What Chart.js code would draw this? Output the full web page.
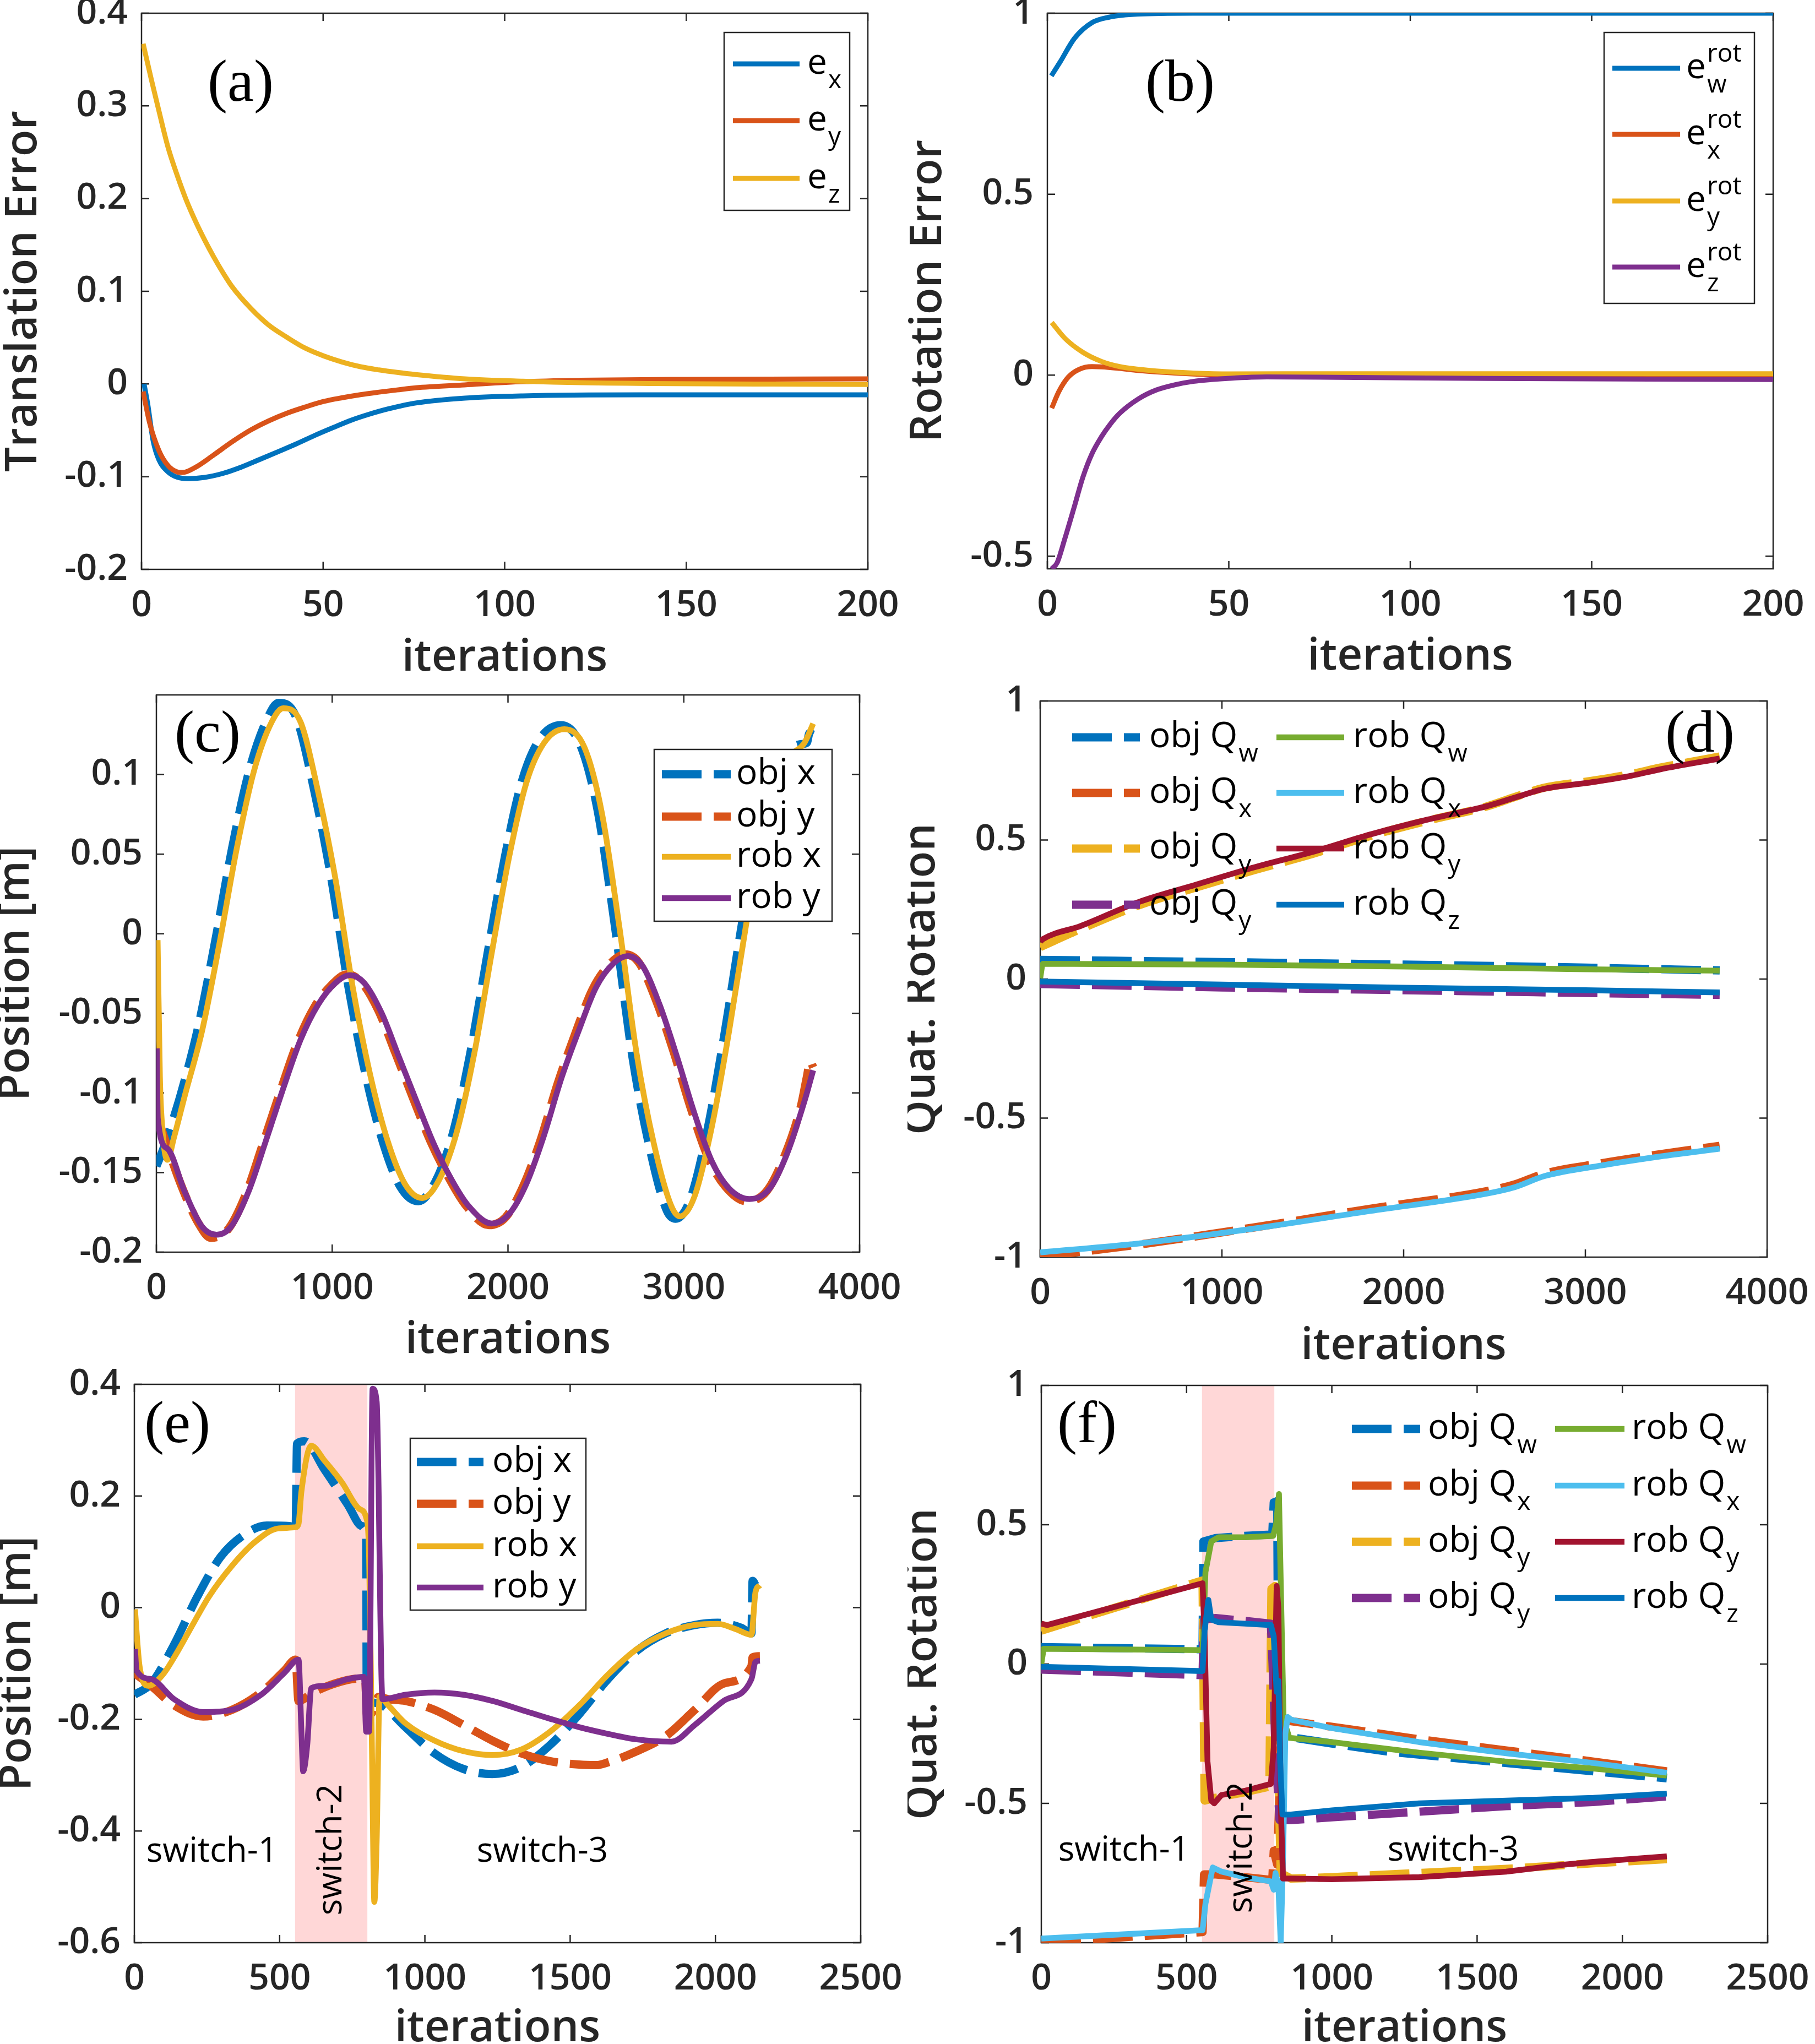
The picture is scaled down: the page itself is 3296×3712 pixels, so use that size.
<!DOCTYPE html>
<html>
<head>
<meta charset="utf-8">
<title>Tracking errors and trajectories</title>
<script src="https://cdn.jsdelivr.net/npm/chart.js@4.4.1/dist/chart.umd.min.js"></script>
<style>
  html, body { margin: 0; padding: 0; background: #fff; }
  #fig { position: relative; width: 3296px; height: 3712px; overflow: hidden; background: #fff; }
  #fig canvas { position: absolute; }
</style>
</head>
<body>
<div id="fig">
  <canvas id="pa" width="1648" height="1240" style="left:0;top:0;width:1648px;height:1240px"></canvas>
  <canvas id="pb" width="1648" height="1240" style="left:1648px;top:0;width:1648px;height:1240px"></canvas>
  <canvas id="pc" width="1648" height="1232" style="left:0;top:1240px;width:1648px;height:1232px"></canvas>
  <canvas id="pd" width="1648" height="1232" style="left:1648px;top:1240px;width:1648px;height:1232px"></canvas>
  <canvas id="pe" width="1648" height="1240" style="left:0;top:2472px;width:1648px;height:1240px"></canvas>
  <canvas id="pf" width="1648" height="1240" style="left:1648px;top:2472px;width:1648px;height:1240px"></canvas>
</div>
<script>
// ---- data: [iteration, value] ----

// (a) translation error
const aEx = [[0.7,0.0],[1.7,-0.0214],[3.2,-0.0614],[4.75,-0.0815],[7.3,-0.0948],[9.8,-0.1005],[12.8,-0.1021],[17.4,-0.1008],[22.4,-0.0965],[27.4,-0.0898],[32.5,-0.0815],[37.6,-0.0731],[42.7,-0.0645],[47.7,-0.0555],[52.8,-0.0470],[57.8,-0.0390],[62.8,-0.0325],[68,-0.0268],[75.5,-0.0205],[89,-0.0152],[105,-0.0128],[137,-0.0117],[200,-0.0117]];
const aEy = [[0.45,-0.0081],[2.2,-0.0415],[4.75,-0.0715],[7.3,-0.0881],[9.8,-0.0948],[11.3,-0.0955],[14.9,-0.0898],[19.9,-0.0765],[24.9,-0.0625],[30,-0.0498],[35,-0.0398],[40.1,-0.0314],[45.1,-0.0248],[50.2,-0.0188],[55.3,-0.0148],[60.3,-0.0115],[65.4,-0.0088],[70.4,-0.0064],[75.5,-0.0041],[89,-0.001],[105,0.0025],[121,0.004],[150,0.005],[200,0.0056]];
const aEz = [[0.45,0.367],[2.7,0.3286],[4.75,0.2953],[7.3,0.2553],[9.8,0.2253],[12.3,0.1986],[14.9,0.1752],[17.4,0.1552],[19.9,0.1369],[22.4,0.1202],[24.9,0.1052],[30,0.0819],[35,0.0636],[40.1,0.0502],[45.1,0.0386],[50.2,0.0302],[55.3,0.0236],[60.3,0.0186],[65.4,0.0152],[70.4,0.0125],[75.5,0.0102],[89,0.0056],[105,0.003],[121,0.0014],[200,-0.0005]];

// (b) rotation error
const bEw = [[1.1,0.827],[3.5,0.865],[7.5,0.931],[12.3,0.974],[17,0.989],[25,0.9976],[40,1.0],[200,1.0]];
const bEx = [[1.2,-0.0911],[3.2,-0.0446],[5.8,-0.005],[8.8,0.0164],[12.3,0.0237],[14.9,0.023],[19.9,0.0187],[25,0.013],[35.1,0.0058],[45.2,0.0014],[55,0.0],[200,-0.002]];
const bEy = [[1.2,0.1457],[4.75,0.1027],[9.8,0.0631],[14.9,0.038],[19.9,0.0237],[25,0.0164],[30,0.0114],[40.2,0.0058],[50.3,0.0035],[80,0.004],[200,0.004]];
const bEz = [[1.2,-0.535],[2.7,-0.518],[4.75,-0.4538],[7.3,-0.3677],[9.8,-0.2815],[12.3,-0.2168],[14.9,-0.1702],[17.4,-0.1344],[19.9,-0.1056],[25,-0.066],[30,-0.041],[35.1,-0.0266],[40.2,-0.0172],[45.2,-0.0122],[50.3,-0.0086],[60.4,-0.005],[80,-0.006],[121,-0.009],[200,-0.012]];

// (c) position, long run
const cObjX = [[0,-0.146],[40,-0.135],[100,-0.115],[136,-0.102],[235,-0.060],[334,-0.005],[433,0.055],[532,0.104],[631,0.135],[695,0.145],[795,0.136],[894,0.092],[993,0.036],[1092,-0.033],[1191,-0.089],[1289,-0.131],[1388,-0.159],[1490,-0.168],[1586,-0.156],[1685,-0.126],[1784,-0.076],[1883,-0.013],[1982,0.048],[2080,0.096],[2179,0.122],[2300,0.131],[2410,0.119],[2509,0.078],[2608,0.005],[2706,-0.076],[2805,-0.134],[2904,-0.174],[2954,-0.179],[3036,-0.167],[3135,-0.123],[3233,-0.062],[3332,0.007],[3431,0.068],[3563,0.110],[3662,0.119],[3700,0.120],[3715,0.126],[3736,0.125]];
const cObjY = [[0,-0.113],[45,-0.128],[141,-0.158],[240,-0.182],[310,-0.191],[405,-0.186],[504,-0.165],[603,-0.133],[702,-0.100],[800,-0.069],[899,-0.046],[998,-0.032],[1084,-0.0255],[1163,-0.030],[1262,-0.048],[1360,-0.075],[1459,-0.103],[1558,-0.130],[1657,-0.152],[1756,-0.170],[1891,-0.183],[1987,-0.178],[2085,-0.159],[2184,-0.130],[2283,-0.094],[2382,-0.063],[2481,-0.035],[2580,-0.019],[2666,-0.013],[2744,-0.018],[2843,-0.042],[2942,-0.074],[3041,-0.110],[3140,-0.141],[3238,-0.159],[3357,-0.168],[3469,-0.162],[3568,-0.141],[3667,-0.108],[3700,-0.090],[3720,-0.080],[3736,-0.084]];
const cRobX = [[7,-0.004],[20,-0.09],[35,-0.124],[63,-0.142],[100,-0.128],[161,-0.102],[260,-0.061],[359,-0.006],[458,0.054],[557,0.103],[656,0.133],[722,0.1416],[820,0.133],[919,0.0896],[1018,0.0348],[1117,-0.0337],[1216,-0.0885],[1314,-0.1296],[1413,-0.157],[1513,-0.166],[1611,-0.154],[1710,-0.124],[1809,-0.0748],[1908,-0.0118],[2007,0.0485],[2105,0.095],[2204,0.1197],[2320,0.1285],[2435,0.117],[2534,0.0759],[2633,0.0047],[2731,-0.0748],[2830,-0.132],[2929,-0.171],[2979,-0.1775],[3061,-0.165],[3160,-0.121],[3258,-0.061],[3357,0.0074],[3456,0.0677],[3588,0.109],[3687,0.12],[3736,0.132]];
const cRobY = [[2,-0.072],[8,-0.116],[63,-0.135],[161,-0.162],[260,-0.184],[343,-0.189],[425,-0.184],[524,-0.162],[623,-0.130],[722,-0.097],[820,-0.0666],[919,-0.0447],[1018,-0.031],[1100,-0.026],[1183,-0.031],[1282,-0.050],[1380,-0.0775],[1479,-0.105],[1578,-0.132],[1677,-0.154],[1776,-0.171],[1908,-0.182],[2007,-0.176],[2105,-0.157],[2204,-0.127],[2303,-0.091],[2402,-0.061],[2501,-0.0337],[2600,-0.0186],[2682,-0.014],[2764,-0.020],[2863,-0.0447],[2962,-0.0775],[3061,-0.113],[3160,-0.143],[3258,-0.160],[3374,-0.1666],[3489,-0.160],[3588,-0.138],[3687,-0.105],[3736,-0.0858]];

// (d) quaternion, long run
const dObjW = [[0,0.069],[1000,0.061],[2000,0.052],[3000,0.041],[3739,0.031]];
const dObjX = [[0,-0.998],[542,-0.955],[1179,-0.893],[1817,-0.826],[2454,-0.763],[2614,-0.738],[2773,-0.700],[3092,-0.662],[3410,-0.630],[3739,-0.600]];
const dObjY = [[0,0.115],[223,0.18],[542,0.265],[861,0.33],[1179,0.392],[1498,0.45],[1817,0.515],[2135,0.57],[2454,0.62],[2614,0.655],[2773,0.688],[3028,0.712],[3251,0.737],[3410,0.76],[3739,0.80]];
const dObjZ = [[0,-0.018],[1000,-0.03],[2000,-0.04],[3000,-0.05],[3739,-0.057]];
const dRobW = [[0,0.003],[15,0.055],[1000,0.052],[2000,0.045],[3000,0.035],[3739,0.030]];
const dRobX = [[0,-0.983],[542,-0.951],[1179,-0.897],[1817,-0.834],[2454,-0.772],[2614,-0.748],[2773,-0.709],[3092,-0.670],[3410,-0.638],[3739,-0.610]];
const dRobY = [[0,0.135],[16,0.144],[223,0.191],[542,0.277],[861,0.340],[1179,0.402],[1498,0.457],[1817,0.520],[2135,0.574],[2454,0.621],[2614,0.653],[2773,0.684],[3028,0.707],[3251,0.731],[3410,0.754],[3739,0.793]];
const dRobZ = [[0,-0.009],[1000,-0.02],[2000,-0.031],[3000,-0.04],[3739,-0.048]];

// (e) position with switches
const eObjX = [[0,-0.156],[58,-0.136],[137,-0.066],[217,0.020],[297,0.091],[376,0.130],[456,0.147],[535,0.146],[555,0.138],[560,0.294],[585,0.298],[655,0.247],[734,0.185],[784,0.146],[798,0.130],[800,-0.183],[820,-0.17],[854,-0.175],[933,-0.214],[1033,-0.261],[1133,-0.289],[1232,-0.298],[1332,-0.285],[1431,-0.246],[1531,-0.191],[1630,-0.128],[1730,-0.077],[1829,-0.046],[1929,-0.031],[2008,-0.027],[2088,-0.036],[2124,-0.046],[2128,0.048],[2138,0.040]];
const eObjY = [[0,-0.117],[58,-0.140],[137,-0.175],[237,-0.195],[336,-0.183],[436,-0.152],[516,-0.113],[555,-0.093],[565,-0.167],[615,-0.152],[695,-0.135],[774,-0.127],[795,-0.13],[800,-0.19],[815,-0.19],[840,-0.16],[874,-0.164],[933,-0.167],[1033,-0.183],[1133,-0.210],[1232,-0.238],[1332,-0.261],[1431,-0.275],[1531,-0.281],[1590,-0.282],[1630,-0.277],[1730,-0.257],[1829,-0.230],[1929,-0.183],[2028,-0.136],[2124,-0.105],[2128,-0.089],[2153,-0.087]];
const eRobX = [[2,-0.003],[18,-0.105],[48,-0.140],[98,-0.120],[137,-0.089],[197,-0.034],[257,0.020],[336,0.075],[416,0.118],[496,0.142],[555,0.144],[565,0.15],[575,0.208],[609,0.290],[655,0.263],[715,0.224],[774,0.177],[798,0.161],[808,0.09],[818,-0.261],[826,-0.527],[834,-0.418],[844,-0.160],[874,-0.175],[933,-0.207],[1033,-0.238],[1133,-0.257],[1232,-0.264],[1332,-0.254],[1431,-0.222],[1531,-0.175],[1630,-0.120],[1730,-0.074],[1829,-0.046],[1929,-0.031],[2008,-0.029],[2068,-0.038],[2124,-0.0485],[2138,0.028],[2153,0.040]];
const eRobY = [[2,-0.074],[8,-0.113],[58,-0.128],[137,-0.164],[237,-0.187],[336,-0.183],[436,-0.156],[516,-0.117],[565,-0.093],[575,-0.222],[581,-0.293],[595,-0.246],[609,-0.144],[655,-0.140],[734,-0.128],[790,-0.124],[798,-0.222],[808,-0.222],[820,0.392],[834,0.369],[854,-0.164],[933,-0.156],[1033,-0.152],[1133,-0.156],[1232,-0.167],[1332,-0.183],[1431,-0.199],[1531,-0.214],[1630,-0.226],[1730,-0.236],[1849,-0.240],[1929,-0.210],[2028,-0.167],[2124,-0.128],[2138,-0.097],[2153,-0.095]];

// (f) quaternion with switches
const fObjW = [[0,0.061],[555,0.053],[558,0.44],[600,0.452],[700,0.46],[795,0.465],[800,0.58],[812,0.585],[816,-0.2],[854,-0.262],[1000,-0.285],[1200,-0.315],[1500,-0.345],[1800,-0.375],[2153,-0.41]];
const fObjX = [[0,-1.0],[555,-0.962],[560,-0.755],[600,-0.755],[700,-0.765],[795,-0.775],[800,-0.67],[812,-0.72],[824,-0.3],[840,-0.2],[860,-0.205],[1000,-0.225],[1300,-0.27],[1600,-0.31],[1900,-0.35],[2153,-0.385]];
const fObjY = [[0,0.12],[555,0.30],[562,-0.49],[600,-0.48],[700,-0.46],[785,-0.44],[792,0.27],[804,0.28],[814,-0.3],[824,-0.75],[860,-0.77],[1000,-0.765],[1300,-0.75],[1600,-0.735],[1900,-0.715],[2153,-0.70]];
const fObjZ = [[0,-0.02],[555,-0.04],[560,0.16],[600,0.165],[700,0.155],[790,0.145],[796,0.0],[806,-0.3],[820,-0.56],[860,-0.56],[1000,-0.55],[1300,-0.53],[1600,-0.51],[1900,-0.495],[2153,-0.475]];
const fRobW = [[0,0.0],[8,0.055],[555,0.05],[565,0.33],[585,0.44],[610,0.455],[700,0.455],[798,0.46],[808,0.5],[818,0.61],[824,0.3],[834,-0.2],[854,-0.265],[1000,-0.28],[1300,-0.318],[1600,-0.35],[1900,-0.375],[2153,-0.40]];
const fRobX = [[0,-0.985],[555,-0.955],[565,-0.86],[590,-0.73],[620,-0.745],[700,-0.765],[790,-0.78],[800,-0.81],[806,-0.75],[816,-0.8],[824,-1.0],[832,-0.7],[840,-0.25],[848,-0.19],[860,-0.2],[1000,-0.23],[1300,-0.28],[1600,-0.32],[1900,-0.355],[2153,-0.39]];
const fRobY = [[0,0.145],[20,0.14],[555,0.29],[562,0.1],[572,-0.35],[585,-0.49],[595,-0.5],[620,-0.47],[700,-0.455],[790,-0.43],[800,-0.3],[810,0.28],[816,0.2],[824,-0.5],[832,-0.77],[860,-0.77],[1000,-0.772],[1300,-0.765],[1600,-0.745],[1800,-0.72],[1900,-0.71],[2153,-0.69]];
const fRobZ = [[0,-0.01],[555,-0.025],[562,0.12],[575,0.23],[585,0.16],[610,0.15],[700,0.145],[790,0.14],[800,0.1],[810,-0.1],[816,-0.06],[822,-0.35],[830,-0.54],[860,-0.54],[1000,-0.525],[1300,-0.5],[1600,-0.49],[1900,-0.48],[2153,-0.465]];

// switch-2 interval (iterations) shaded in (e) and (f)
const switchBand = [553, 802];

// tick values
const ticksErrX = [0, 50, 100, 150, 200];
const ticksTransY = [-0.2, -0.1, 0, 0.1, 0.2, 0.3, 0.4];
const ticksRotY = [-0.5, 0, 0.5, 1];
const ticksLongX = [0, 1000, 2000, 3000, 4000];
const ticksPosY = [-0.2, -0.15, -0.1, -0.05, 0, 0.05, 0.1];
const ticksQuatY = [-1, -0.5, 0, 0.5, 1];
const ticksSwX = [0, 500, 1000, 1500, 2000, 2500];
const ticksSwPosY = [-0.6, -0.4, -0.2, 0, 0.2, 0.4];

// ---- styling ----
const FONT = "'Open Sans', 'Noto Sans', 'DejaVu Sans', sans-serif";
const SERIF = "'Liberation Serif', 'Times New Roman', serif";
const INK = '#262626';
const COL = { blue: '#0072BD', orange: '#D95319', yellow: '#EDB120', purple: '#7E2F8E',
              green: '#77AC30', lblue: '#4DBEEE', red: '#A2142F' };
const DASH = [72, 22];
const TICK = 14;

function line(arr, color, opt) {
  return Object.assign({
    data: arr.map(([x, y]) => ({ x, y })),
    borderColor: color, backgroundColor: color,
    borderWidth: 10.5, borderDash: [], pointRadius: 0, fill: false,
    tension: 0, borderCapStyle: 'butt', borderJoinStyle: 'round',
  }, opt);
}
const smooth = { cubicInterpolationMode: 'monotone' };
const obj = (o) => Object.assign({ borderWidth: 15, borderDash: DASH }, o);
const thin = (o) => Object.assign({ borderWidth: 9 }, smooth, o);
const sm = (o) => Object.assign({}, smooth, o);

// per-panel layout (canvas pixels)
const PANELS = {
  pa: { box: [257, 24, 1576, 1034], x: [0, 200], xt: ticksErrX, y: [-0.2, 0.4], yt: ticksTransY,
        ytitle: 'Translation Error', ytPad: 27.6, xtPad: 28.6, tag: ['(a)', 437, 155],
        legend: { box: [1315, 59, 1543, 382], cols: [{ s0: 1331, s1: 1452, tx: 1466 }], rows: [116, 219, 324] } },
  pb: { box: [254, 24, 1572, 1033], x: [0, 200], xt: ticksErrX, y: [-0.535, 1], yt: ticksRotY,
        ytitle: 'Rotation Error', ytPad: 22.6, xtPad: 30.6, tag: ['(b)', 495, 155],
        legend: { box: [1265, 59, 1538, 551], cols: [{ s0: 1280, s1: 1403, tx: 1414 }], rows: [124, 244, 365, 485] } },
  pc: { box: [284, 22, 1561, 1034], x: [0, 4000], xt: ticksLongX, y: [-0.2, 0.15], yt: ticksPosY,
        ytitle: 'Position [m]', ytPad: 13.6, xtPad: 21.6, tag: ['(c)', 377, 97],
        legend: { box: [1188, 121, 1511, 433], cols: [{ s0: 1202, s1: 1327, tx: 1337 }], rows: [166, 243, 316, 391] } },
  pd: { box: [241, 33, 1561, 1043], x: [0, 4000], xt: ticksLongX, y: [-1, 1], yt: ticksQuatY,
        ytitle: 'Quat. Rotation', ytPad: 10.6, xtPad: 10.6, tag: ['(d)', 1439, 97],
        legend: { box: null, cols: [{ s0: 299, s1: 422, tx: 439 }, { s0: 670, s1: 793, tx: 809 }], rows: [99, 200, 301, 403] } },
  pe: { box: [244, 42, 1563, 1056], x: [0, 2500], xt: ticksSwX, y: [-0.6, 0.4], yt: ticksSwPosY,
        ytitle: 'Position [m]', ytPad: 16.6, xtPad: 11.6, tag: ['(e)', 322, 119], band: switchBand,
        notes: [['switch-1', 385, 891, 0], ['switch-2', 602, 887, 1], ['switch-3', 985, 891, 0]],
        legend: { box: [745, 140, 1064, 452], cols: [{ s0: 757, s1: 878, tx: 894 }], rows: [183, 259, 336, 411] } },
  pf: { box: [243, 44, 1562, 1056], x: [0, 2500], xt: ticksSwX, y: [-1, 1], yt: ticksQuatY,
        ytitle: 'Quat. Rotation', ytPad: 13.6, xtPad: 11.6, tag: ['(f)', 326, 119], band: switchBand,
        notes: [['switch-1', 393, 889, 0], ['switch-2', 607, 883, 1], ['switch-3', 991, 889, 0]],
        legend: { box: null, cols: [{ s0: 807, s1: 931, tx: 945 }, { s0: 1176, s1: 1302, tx: 1315 }], rows: [123, 226, 328, 430] } },
};

const fmt = v => String(Math.round(v * 1000) / 1000);

function drawRich(ctx, x, y, t, sub, sup) {
  ctx.fillStyle = '#000';
  ctx.textAlign = 'left';
  ctx.textBaseline = 'alphabetic';
  ctx.font = `500 64px ${FONT}`;
  const base = y + 18;
  ctx.fillText(t, x, base);
  const w = ctx.measureText(t).width + 2;
  ctx.font = `500 46px ${FONT}`;
  if (sub) ctx.fillText(sub, x + w, base + 26);
  if (sup) ctx.fillText(sup, x + w, base - 30);
}

const figPlugin = {
  id: 'figDecor',
  beforeDatasetsDraw(chart) {
    const P = PANELS[chart.canvas.id];
    const { ctx, chartArea: a, scales: { x, y } } = chart;
    ctx.save();
    if (P.band) {
      const x0 = x.getPixelForValue(P.band[0]), x1 = x.getPixelForValue(P.band[1]);
      ctx.fillStyle = '#FFD7D7';
      ctx.fillRect(x0, a.top, x1 - x0, a.bottom - a.top);
    }
    ctx.strokeStyle = INK;
    ctx.lineWidth = 2.5;
    ctx.strokeRect(a.left, a.top, a.right - a.left, a.bottom - a.top);
    ctx.beginPath();
    x.ticks.forEach(t => {
      const px = x.getPixelForValue(t.value);
      ctx.moveTo(px, a.bottom); ctx.lineTo(px, a.bottom - TICK);
      ctx.moveTo(px, a.top); ctx.lineTo(px, a.top + TICK);
    });
    y.ticks.forEach(t => {
      const py = y.getPixelForValue(t.value);
      ctx.moveTo(a.left, py); ctx.lineTo(a.left + TICK, py);
      ctx.moveTo(a.right, py); ctx.lineTo(a.right - TICK, py);
    });
    ctx.stroke();
    ctx.restore();
  },
  afterDatasetsDraw(chart) {
    const P = PANELS[chart.canvas.id];
    const ctx = chart.ctx;
    ctx.save();
    // switch annotations
    (P.notes || []).forEach(([txt, nx, ny, rot]) => {
      ctx.save();
      ctx.translate(nx, ny);
      if (rot) ctx.rotate(-Math.PI / 2);
      ctx.font = `500 62px ${FONT}`;
      ctx.fillStyle = '#000';
      ctx.textAlign = 'center';
      ctx.textBaseline = 'middle';
      ctx.fillText(txt, 0, 0);
      ctx.restore();
    });
    // legend
    const L = P.legend;
    if (L.box) {
      const [x0, y0, x1, y1] = L.box;
      ctx.fillStyle = '#fff';
      ctx.fillRect(x0, y0, x1 - x0, y1 - y0);
      ctx.strokeStyle = INK;
      ctx.lineWidth = 2.5;
      ctx.strokeRect(x0, y0, x1 - x0, y1 - y0);
    }
    chart.data.datasets.forEach(ds => {
      const g = ds.lg;
      if (!g) return;
      const c = L.cols[g.col], ly = L.rows[g.row];
      ctx.save();
      ctx.strokeStyle = ds.borderColor;
      ctx.lineWidth = ds.borderWidth;
      ctx.setLineDash(ds.borderDash || []);
      ctx.lineCap = 'butt';
      ctx.beginPath();
      ctx.moveTo(c.s0, ly); ctx.lineTo(c.s1, ly);
      ctx.stroke();
      ctx.restore();
      drawRich(ctx, c.tx, ly, g.t, g.sub, g.sup);
    });
    // panel tag
    const [tag, tx, ty] = P.tag;
    ctx.font = `108px ${SERIF}`;
    ctx.fillStyle = '#000';
    ctx.textAlign = 'center';
    ctx.textBaseline = 'middle';
    ctx.fillText(tag, tx, ty);
    ctx.restore();
  }
};

function build(id, datasets) {
  const P = PANELS[id];
  const cv = document.getElementById(id);
  const W = cv.width, H = cv.height;
  const tickFont = { family: FONT, size: 66, weight: '600' };
  const titleFont = { family: FONT, size: 80, weight: '600', lineHeight: 0.4 };
  datasets.forEach((d, i) => { d.order = datasets.length - i; });
  return new Chart(cv, {
    type: 'line',
    data: { datasets },
    options: {
      responsive: false, animation: false, devicePixelRatio: 1, events: [],
      layout: { padding: { left: 0, top: P.box[1], right: W - P.box[2], bottom: 0 } },
      plugins: { legend: { display: false }, tooltip: { enabled: false } },
      scales: {
        x: {
          type: 'linear', min: P.x[0], max: P.x[1],
          afterBuildTicks: s => { s.ticks = P.xt.map(v => ({ value: v })); },
          afterFit: s => { s.height = H - P.box[3]; s.paddingLeft = 0; s.paddingRight = 0; },
          grid: { display: false, drawTicks: false }, border: { display: false },
          ticks: { font: tickFont, color: INK, padding: 27, maxRotation: 0, autoSkip: false, callback: fmt },
          title: { display: true, text: 'iterations', font: titleFont, color: INK, padding: { top: 0, bottom: P.xtPad } },
        },
        y: {
          type: 'linear', min: P.y[0], max: P.y[1],
          afterBuildTicks: s => { s.ticks = P.yt.map(v => ({ value: v })); },
          afterFit: s => { s.width = P.box[0]; s.paddingTop = 0; s.paddingBottom = 0; },
          grid: { display: false, drawTicks: false }, border: { display: false },
          ticks: { font: tickFont, color: INK, padding: 25, autoSkip: false, callback: fmt },
          title: { display: true, text: P.ytitle, font: titleFont, color: INK, padding: { top: P.ytPad, bottom: 0 } },
        },
      },
    },
    plugins: [figPlugin],
  });
}

build('pa', [
  line(aEx, COL.blue,   thin({ lg: { col: 0, row: 0, t: 'e', sub: 'x' } })),
  line(aEy, COL.orange, thin({ lg: { col: 0, row: 1, t: 'e', sub: 'y' } })),
  line(aEz, COL.yellow, thin({ lg: { col: 0, row: 2, t: 'e', sub: 'z' } })),
]);

build('pb', [
  line(bEw, COL.blue,   thin({ lg: { col: 0, row: 0, t: 'e', sub: 'w', sup: 'rot' } })),
  line(bEx, COL.orange, thin({ lg: { col: 0, row: 1, t: 'e', sub: 'x', sup: 'rot' } })),
  line(bEy, COL.yellow, thin({ lg: { col: 0, row: 2, t: 'e', sub: 'y', sup: 'rot' } })),
  line(bEz, COL.purple, thin({ lg: { col: 0, row: 3, t: 'e', sub: 'z', sup: 'rot' } })),
]);

build('pc', [
  line(cObjX, COL.blue,   obj(sm({ lg: { col: 0, row: 0, t: 'obj x' } }))),
  line(cObjY, COL.orange, obj(sm({ lg: { col: 0, row: 1, t: 'obj y' } }))),
  line(cRobX, COL.yellow, sm({ lg: { col: 0, row: 2, t: 'rob x' } })),
  line(cRobY, COL.purple, sm({ lg: { col: 0, row: 3, t: 'rob y' } })),
]);

build('pd', [
  line(dObjW, COL.blue,   obj(sm({ lg: { col: 0, row: 0, t: 'obj Q', sub: 'w' } }))),
  line(dObjX, COL.orange, obj(sm({ lg: { col: 0, row: 1, t: 'obj Q', sub: 'x' } }))),
  line(dObjY, COL.yellow, obj(sm({ lg: { col: 0, row: 2, t: 'obj Q', sub: 'y' } }))),
  line(dObjZ, COL.purple, obj(sm({ lg: { col: 0, row: 3, t: 'obj Q', sub: 'y' } }))),
  line(dRobW, COL.green,  sm({ lg: { col: 1, row: 0, t: 'rob Q', sub: 'w' } })),
  line(dRobX, COL.lblue,  sm({ lg: { col: 1, row: 1, t: 'rob Q', sub: 'x' } })),
  line(dRobY, COL.red,    sm({ lg: { col: 1, row: 2, t: 'rob Q', sub: 'y' } })),
  line(dRobZ, COL.blue,   sm({ lg: { col: 1, row: 3, t: 'rob Q', sub: 'z' } })),
]);

build('pe', [
  line(eObjX, COL.blue,   obj(sm({ lg: { col: 0, row: 0, t: 'obj x' } }))),
  line(eObjY, COL.orange, obj(sm({ lg: { col: 0, row: 1, t: 'obj y' } }))),
  line(eRobX, COL.yellow, sm({ lg: { col: 0, row: 2, t: 'rob x' } })),
  line(eRobY, COL.purple, sm({ lg: { col: 0, row: 3, t: 'rob y' } })),
]);

build('pf', [
  line(fObjW, COL.blue,   obj({ lg: { col: 0, row: 0, t: 'obj Q', sub: 'w' } })),
  line(fObjX, COL.orange, obj({ lg: { col: 0, row: 1, t: 'obj Q', sub: 'x' } })),
  line(fObjY, COL.yellow, obj({ lg: { col: 0, row: 2, t: 'obj Q', sub: 'y' } })),
  line(fObjZ, COL.purple, obj({ lg: { col: 0, row: 3, t: 'obj Q', sub: 'y' } })),
  line(fRobW, COL.green,  { lg: { col: 1, row: 0, t: 'rob Q', sub: 'w' } }),
  line(fRobX, COL.lblue,  { lg: { col: 1, row: 1, t: 'rob Q', sub: 'x' } }),
  line(fRobY, COL.red,    { lg: { col: 1, row: 2, t: 'rob Q', sub: 'y' } }),
  line(fRobZ, COL.blue,   { lg: { col: 1, row: 3, t: 'rob Q', sub: 'z' } }),
]);
</script>
</body>
</html>
